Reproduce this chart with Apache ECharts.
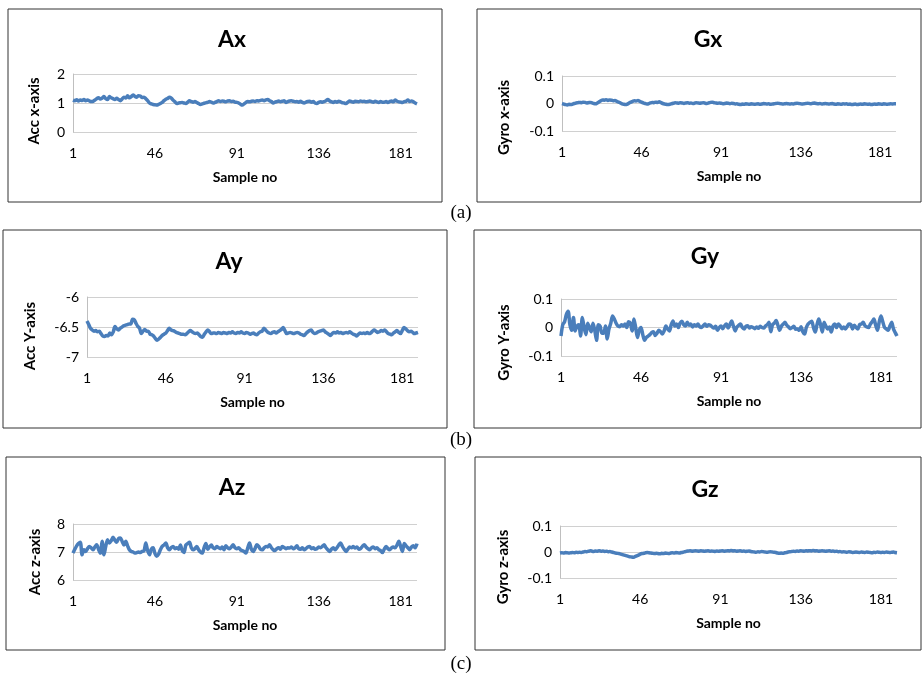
<!DOCTYPE html>
<html><head><meta charset="utf-8">
<script src="https://cdn.jsdelivr.net/npm/echarts@6/dist/echarts.min.js"></script>
<style>html,body{margin:0;padding:0;background:#fff}#c{width:922px;height:674px}</style>
</head><body><div id="c"></div>
<script>
const sampleNo = Array.from({length:190},(_,i)=>String(i+1));
const titles = ["Ax","Gx","Ay","Gy","Az","Gz"];
const yNames = ["Acc x-axis","Gyro x-axis","Acc Y-axis","Gyro Y-axis","Acc z-axis","Gyro z-axis"];
const xName = "Sample no";
const panelTags = ["(a)","(b)","(c)"];
const yMin = [0,-0.1,-7,-0.1,6,-0.1];
const yMax = [2,0.1,-6,0.1,8,0.1];
const yStep = [1,0.1,0.5,0.1,1,0.1];

const ax = [1.10,1.08,1.11,1.07,1.10,1.09,1.12,1.08,1.10,1.07,
1.05,1.06,1.10,1.15,1.18,1.14,1.17,1.22,1.15,1.12,
1.22,1.18,1.15,1.12,1.16,1.12,1.08,1.14,1.20,1.17,
1.25,1.18,1.22,1.28,1.23,1.20,1.25,1.24,1.19,1.20,
1.15,1.08,1.00,0.97,0.95,0.94,0.93,0.95,0.98,1.02,
1.08,1.13,1.16,1.20,1.17,1.10,1.04,0.98,1.00,1.01,
1.02,1.00,0.98,1.03,1.08,1.05,1.03,1.05,1.02,0.98,
0.95,0.97,0.99,1.01,1.02,1.05,1.03,1.00,1.02,1.05,
1.08,1.05,1.07,1.06,1.04,1.07,1.08,1.05,1.06,1.03,
1.02,1.00,0.96,0.93,0.97,1.02,1.05,1.04,1.06,1.07,
1.05,1.08,1.07,1.09,1.10,1.08,1.11,1.12,1.08,1.05,
1.00,1.03,1.05,1.07,1.04,1.06,1.08,1.02,1.05,1.07,
1.08,1.06,1.04,1.05,1.03,1.06,1.02,1.00,1.03,1.05,
1.06,1.03,1.05,1.00,0.98,1.02,1.04,1.03,1.05,1.08,
1.12,1.07,1.04,1.02,1.05,1.03,1.06,1.04,1.01,1.00,
0.98,1.03,1.07,1.05,1.03,1.06,1.05,1.04,1.07,1.05,
1.06,1.04,1.05,1.07,1.05,1.03,1.06,1.04,1.02,1.05,
1.03,1.03,1.05,1.02,1.05,1.07,1.04,1.10,1.06,1.04,
1.03,1.02,1.05,1.06,1.10,1.05,1.07,1.04,1.00,0.97];

const gx = [0.000,-0.002,-0.004,-0.005,-0.003,-0.004,-0.002,0.000,0.002,0.003,
0.004,0.003,0.005,0.004,0.002,0.003,0.004,0.002,0.000,-0.001,
0.002,0.006,0.010,0.013,0.012,0.014,0.011,0.013,0.012,0.010,
0.011,0.008,0.005,0.002,-0.001,-0.003,-0.004,-0.002,0.002,0.005,
0.008,0.010,0.009,0.011,0.008,0.005,0.002,0.000,-0.002,-0.001,
0.002,0.004,0.003,0.005,0.004,0.006,0.003,0.000,-0.002,-0.003,
-0.004,-0.003,-0.001,0.001,0.003,0.002,0.001,0.003,0.002,0.000,
0.002,0.003,0.001,0.002,0.000,0.001,0.003,0.002,0.001,0.002,
0.003,0.001,0.000,0.002,0.004,0.005,0.003,0.002,0.001,0.002,
0.001,-0.001,0.000,0.002,0.001,-0.001,0.001,0.000,-0.002,-0.001,
-0.003,-0.004,-0.002,-0.003,-0.001,-0.002,-0.003,-0.001,-0.002,-0.003,
-0.002,-0.001,-0.003,-0.002,0.000,-0.001,-0.002,-0.001,-0.003,-0.002,
-0.001,0.000,0.001,0.000,-0.001,-0.002,-0.001,0.000,-0.001,-0.002,
-0.001,-0.002,0.000,0.001,0.000,-0.001,-0.002,-0.001,0.000,0.001,
0.000,-0.001,0.001,0.002,0.000,-0.001,0.000,-0.002,-0.001,0.000,
-0.001,-0.002,-0.001,0.000,-0.002,-0.003,-0.001,-0.002,-0.003,-0.001,
-0.002,-0.001,-0.003,-0.002,-0.004,-0.003,-0.002,-0.004,-0.003,-0.002,
-0.003,-0.001,-0.002,-0.003,-0.002,-0.004,-0.003,-0.002,-0.003,-0.001,
-0.002,-0.003,-0.001,-0.002,-0.003,-0.002,-0.001,-0.002,-0.001,-0.001];

const ay = [-6.40,-6.46,-6.52,-6.55,-6.57,-6.56,-6.58,-6.57,-6.61,-6.65,
-6.66,-6.64,-6.65,-6.60,-6.63,-6.58,-6.49,-6.53,-6.55,-6.52,
-6.50,-6.48,-6.47,-6.46,-6.45,-6.45,-6.37,-6.38,-6.44,-6.49,
-6.52,-6.61,-6.57,-6.54,-6.57,-6.57,-6.62,-6.63,-6.65,-6.69,
-6.72,-6.70,-6.67,-6.64,-6.62,-6.60,-6.56,-6.52,-6.55,-6.56,
-6.57,-6.59,-6.60,-6.61,-6.62,-6.62,-6.63,-6.61,-6.58,-6.56,
-6.58,-6.60,-6.61,-6.60,-6.63,-6.66,-6.67,-6.62,-6.58,-6.55,
-6.58,-6.61,-6.60,-6.60,-6.61,-6.59,-6.60,-6.61,-6.59,-6.60,
-6.61,-6.59,-6.60,-6.58,-6.60,-6.61,-6.59,-6.60,-6.58,-6.60,
-6.61,-6.59,-6.60,-6.62,-6.61,-6.60,-6.62,-6.63,-6.60,-6.58,
-6.57,-6.52,-6.55,-6.58,-6.60,-6.61,-6.59,-6.58,-6.60,-6.58,
-6.56,-6.54,-6.51,-6.56,-6.61,-6.60,-6.59,-6.60,-6.61,-6.60,
-6.59,-6.60,-6.62,-6.63,-6.64,-6.61,-6.58,-6.56,-6.55,-6.59,
-6.61,-6.60,-6.58,-6.57,-6.56,-6.55,-6.58,-6.60,-6.62,-6.64,
-6.61,-6.59,-6.60,-6.58,-6.60,-6.59,-6.61,-6.60,-6.59,-6.60,
-6.58,-6.60,-6.62,-6.63,-6.65,-6.62,-6.60,-6.61,-6.60,-6.61,
-6.59,-6.61,-6.60,-6.57,-6.55,-6.57,-6.59,-6.58,-6.56,-6.57,
-6.55,-6.58,-6.61,-6.62,-6.63,-6.60,-6.58,-6.56,-6.59,-6.61,
-6.56,-6.51,-6.53,-6.56,-6.58,-6.57,-6.59,-6.61,-6.60,-6.59];

const gy = [-0.030,0.010,0.020,0.045,0.057,0.010,-0.010,0.035,-0.012,0.005,
0.010,-0.030,0.035,0.000,-0.025,0.015,0.000,-0.015,0.015,-0.010,
-0.045,0.010,0.005,-0.020,-0.020,0.005,-0.040,-0.005,0.015,0.040,
0.030,0.015,0.005,0.003,0.010,0.005,0.012,0.000,0.020,0.015,
-0.012,0.030,0.000,-0.035,-0.010,0.000,-0.025,-0.045,-0.035,-0.030,
-0.025,-0.018,-0.015,-0.028,-0.020,-0.010,-0.015,-0.023,-0.012,0.005,
-0.005,-0.012,0.010,0.023,0.005,0.012,0.000,0.015,0.022,0.010,
0.005,0.018,0.008,0.012,0.002,0.010,0.005,0.012,0.003,0.000,
0.006,0.012,0.004,0.010,0.008,0.002,-0.002,0.004,-0.010,0.000,
0.005,-0.004,0.006,0.012,-0.002,0.010,0.023,0.005,-0.012,0.002,
0.008,0.012,0.000,-0.005,0.004,0.006,-0.002,0.003,0.000,-0.004,
0.002,-0.003,0.004,0.000,-0.002,0.005,0.010,0.018,-0.015,0.010,
0.015,0.025,0.008,-0.010,0.005,0.012,0.018,0.008,0.002,-0.004,
0.000,0.004,-0.006,-0.005,-0.010,0.003,-0.015,-0.023,0.000,0.012,
0.018,0.022,0.000,-0.016,0.010,0.030,0.010,-0.016,0.018,0.005,
-0.005,0.002,-0.016,0.005,0.012,0.000,0.012,0.006,-0.004,0.002,
-0.005,0.004,0.012,0.010,-0.005,0.008,0.000,-0.005,0.010,0.012,
0.018,0.006,0.002,0.000,0.012,0.020,0.030,0.008,-0.010,0.020,
0.040,0.020,0.000,-0.005,-0.010,0.005,0.018,-0.005,-0.018,-0.030];

const az = [6.96,7.10,7.22,7.30,7.35,6.90,7.08,7.02,7.12,7.20,
7.15,7.08,7.18,7.26,7.10,6.96,7.38,6.90,7.20,7.44,
7.32,7.40,7.53,7.42,7.35,7.48,7.50,7.38,7.25,7.38,
7.22,7.08,7.02,7.00,6.96,6.98,7.00,6.98,7.02,7.04,
7.32,7.05,6.90,7.10,7.15,6.95,6.85,6.92,7.08,7.20,
7.25,7.32,7.15,7.08,7.16,7.20,7.12,7.15,7.10,7.25,
7.05,6.98,7.25,7.30,7.35,7.15,7.08,7.12,7.20,7.08,
7.00,6.96,7.15,7.30,7.10,7.18,7.25,7.15,7.12,7.20,
7.15,7.12,7.18,7.08,7.22,7.15,7.12,7.18,7.26,7.15,
7.12,7.15,7.08,7.05,7.02,6.96,7.15,7.32,7.10,7.02,
7.12,7.26,7.20,7.10,7.08,7.15,7.20,7.18,7.26,7.15,
7.08,7.05,7.12,7.15,7.10,7.20,7.16,7.12,7.15,7.14,
7.18,7.12,7.15,7.22,7.12,7.10,7.15,7.08,7.12,7.18,
7.20,7.12,7.15,7.10,7.12,7.18,7.15,7.20,7.26,7.15,
7.08,7.02,7.10,7.15,7.08,7.15,7.25,7.32,7.20,7.10,
7.02,7.10,7.18,7.15,7.20,7.14,7.18,7.10,7.12,7.20,
7.26,7.18,7.12,7.08,7.15,7.18,7.12,7.15,7.08,7.05,
6.98,7.10,7.20,7.12,7.08,7.15,7.18,7.15,7.25,7.38,
7.20,7.02,7.30,7.22,7.15,7.08,7.18,7.22,7.15,7.30];

const gz = [-0.004,-0.003,-0.004,-0.002,-0.003,-0.004,-0.003,-0.002,-0.003,-0.001,
-0.002,-0.001,-0.002,0.000,0.002,0.001,0.003,0.005,0.003,0.002,
0.004,0.003,0.005,0.003,0.004,0.002,0.003,0.001,0.002,0.000,
-0.002,-0.004,-0.005,-0.006,-0.008,-0.010,-0.012,-0.014,-0.016,-0.018,
-0.019,-0.020,-0.018,-0.015,-0.012,-0.008,-0.006,-0.005,-0.003,-0.002,
-0.003,-0.004,-0.005,-0.006,-0.005,-0.006,-0.007,-0.005,-0.006,-0.004,
-0.005,-0.006,-0.004,-0.003,-0.004,-0.002,-0.003,-0.004,-0.002,-0.001,
0.001,0.003,0.004,0.005,0.003,0.004,0.005,0.004,0.003,0.005,
0.004,0.003,0.004,0.005,0.003,0.004,0.003,0.002,0.004,0.003,
0.004,0.005,0.003,0.004,0.005,0.004,0.006,0.004,0.005,0.003,
0.004,0.005,0.003,0.004,0.002,0.003,0.004,0.002,0.001,0.000,
-0.001,0.001,0.000,0.002,0.001,0.000,-0.001,0.000,0.001,0.000,
-0.001,-0.002,-0.004,-0.005,-0.004,-0.005,-0.003,-0.002,0.000,0.001,
0.002,0.003,0.002,0.004,0.003,0.005,0.004,0.003,0.005,0.004,
0.005,0.004,0.006,0.004,0.005,0.003,0.004,0.005,0.004,0.003,
0.004,0.005,0.003,0.004,0.002,0.003,0.001,0.002,0.000,0.001,
0.000,-0.001,0.001,0.000,-0.002,-0.001,0.000,-0.001,-0.002,0.000,
-0.001,-0.002,0.000,-0.001,-0.002,-0.003,-0.001,-0.002,0.000,-0.001,
-0.002,-0.001,-0.002,0.000,-0.001,-0.002,-0.001,0.000,-0.002,-0.003];

const seriesData = [ax,gx,ay,gy,az,gz];

// layout (pixels)
const grids = [
  {left:73, top:74, width:344, height:58},
  {left:562, top:76, width:334, height:55},
  {left:87, top:297, width:331, height:60},
  {left:561, top:299, width:336, height:57},
  {left:73, top:524, width:344, height:56},
  {left:560, top:526, width:337, height:52}
];
const nameGaps = [31,50,49,49,30,49];
const nameShift = [16,28,18,30,20,30];
const titlePos = [[227,23],[703,23],[224,245],[700,240],[227,471],[700,473]];
const boxes = [[8,9,434,193],[477,9,444,193],[3,230,444,198],[474,230,447,198],[6,457,439,193],[475,457,446,193]];
const tagPos = [[461,213],[461,440],[461,664]];

const FONT = 'Lato';
const chart = echarts.init(document.getElementById('c'), null, {renderer:'canvas'});
const option = {
  backgroundColor:'#ffffff',
  animation:false,
  title: titles.map((t,i)=>({text:t, left:titlePos[i][0], top:titlePos[i][1], textAlign:'center',
    textStyle:{fontFamily:FONT, fontSize:23, fontWeight:'bold', color:'#000'}})),
  grid: grids.map(g=>Object.assign({containLabel:false}, g)),
  xAxis: grids.map((g,i)=>({
    type:'category', gridIndex:i, data:sampleNo, boundaryGap:false,
    name:xName, nameLocation:'middle', nameGap:38,
    nameTextStyle:{fontFamily:FONT, fontSize:14, fontWeight:'bold', color:'#000'},
    axisLine:{show:false}, axisTick:{show:false},
    axisLabel:{interval:44, margin:14, fontFamily:FONT, fontSize:14, color:'#000'},
    splitLine:{show:false}
  })),
  yAxis: grids.map((g,i)=>({
    type:'value', gridIndex:i, min:yMin[i], max:yMax[i], interval:yStep[i],
    name:yNames[i], nameLocation:'middle', nameGap:nameGaps[i], nameRotate:90,
    nameTextStyle:{fontFamily:FONT, fontSize:15, fontWeight:'bold', color:'#000', padding:[0,nameShift[i],0,0]},
    axisLine:{show:true, lineStyle:{color:'#bfbfbf', width:1}},
    axisTick:{show:false},
    axisLabel:{margin:8, fontFamily:FONT, fontSize:14, color:'#000'},
    splitLine:{show:true, lineStyle:{color:'#d0d0d0', width:1}}
  })),
  series: seriesData.map((d,i)=>({
    type:'line', xAxisIndex:i, yAxisIndex:i, data:d, showSymbol:false, smooth:0.3,
    lineStyle:{color:'#4a7ebb', width:3.5}, itemStyle:{color:'#4a7ebb'}
  })),
  graphic: [
    ...boxes.map(b=>({type:'rect', shape:{x:b[0], y:b[1], width:b[2], height:b[3]},
      style:{fill:null, stroke:'#333', lineWidth:1}, silent:true})),
    ...panelTags.map((t,i)=>({type:'text', x:tagPos[i][0], y:tagPos[i][1],
      style:{text:t, font:'19px "Liberation Serif"', fill:'#000', textAlign:'center', textVerticalAlign:'middle'}}))
  ]
};
chart.setOption(option);
</script></body></html>
